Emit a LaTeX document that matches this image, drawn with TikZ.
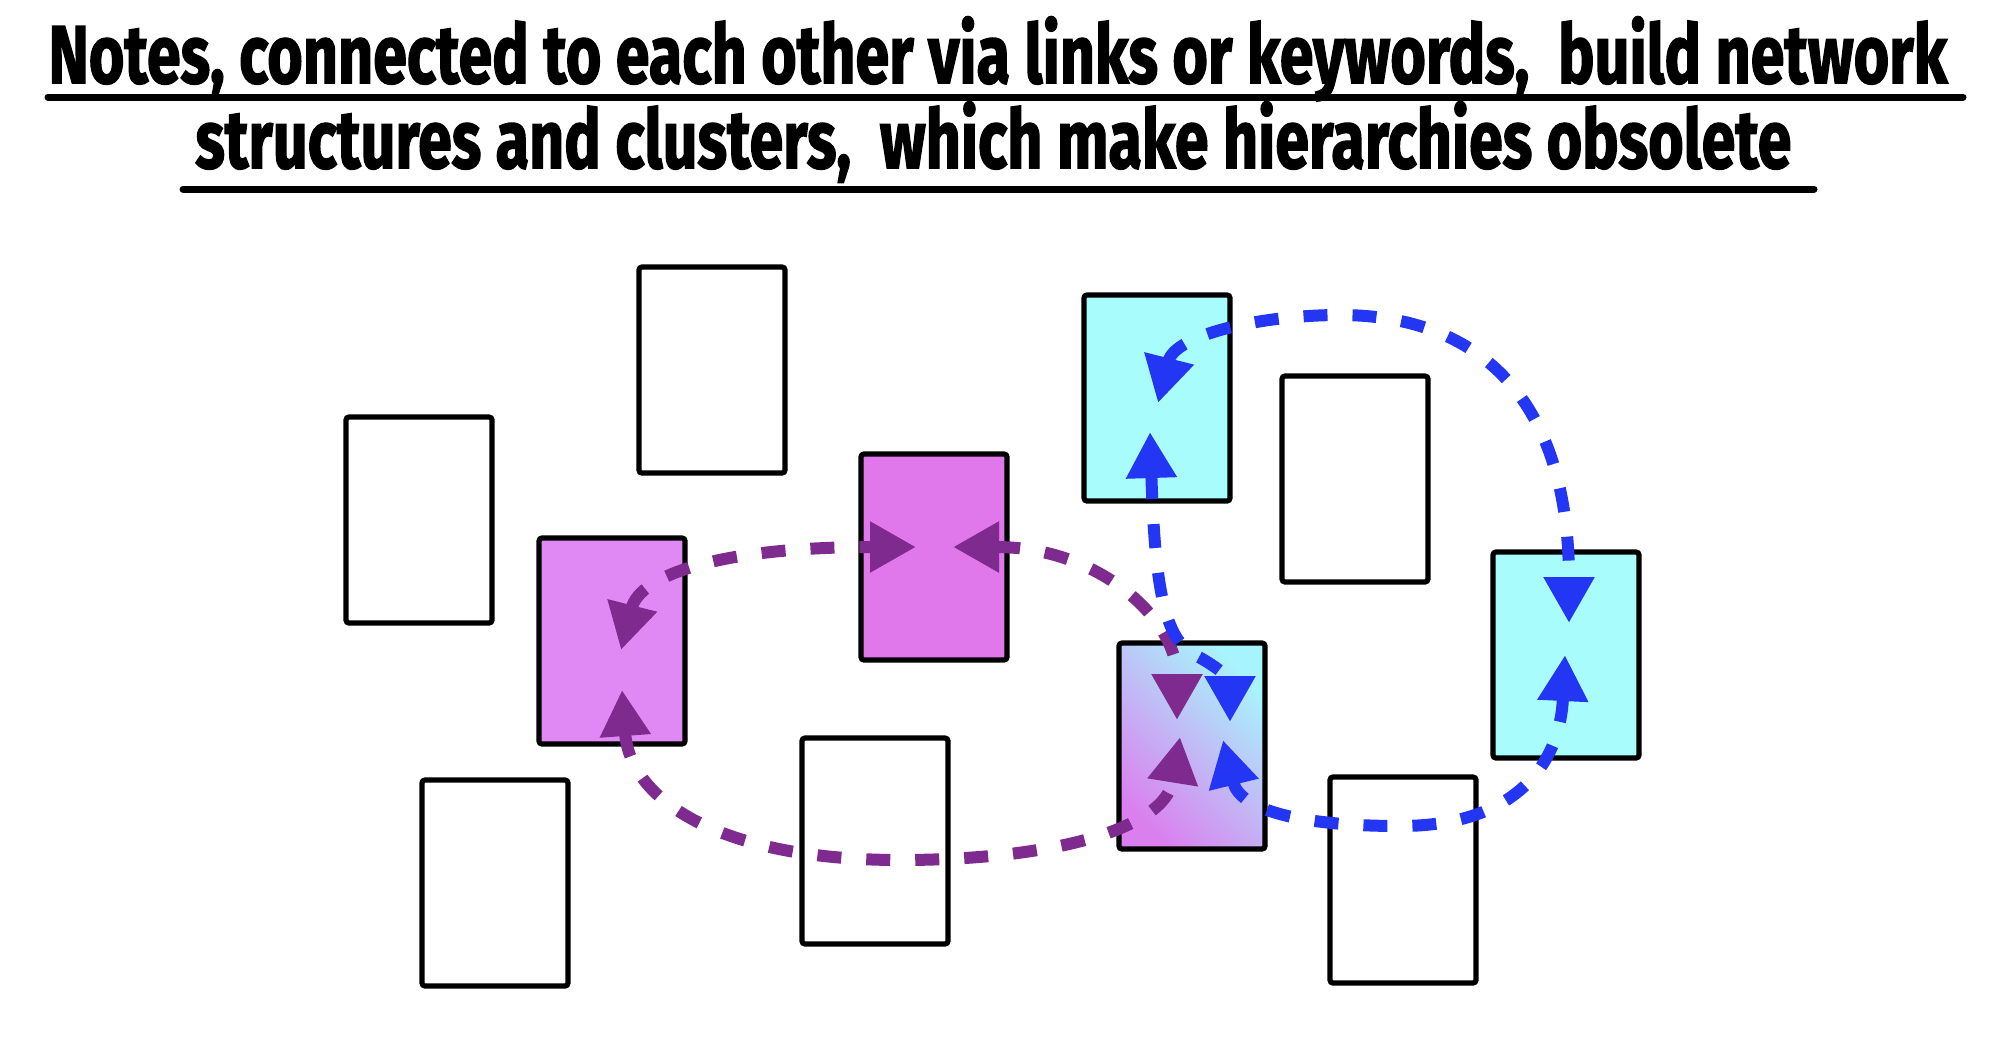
\documentclass[tikz,border=0pt]{standalone}
\usepackage{fontspec}
\setmainfont{Fira Sans}[BoldFeatures={FakeBold=2}]
\usetikzlibrary{arrows.meta}
\definecolor{magA}{HTML}{E088F4}
\definecolor{magB}{HTML}{E077EA}
\definecolor{cyanF}{HTML}{A8FCFC}
\definecolor{purp}{HTML}{7E2A8E}
\definecolor{blueL}{HTML}{2336F3}
\definecolor{gradM}{HTML}{DA80EE}
\definecolor{gradC}{HTML}{A8F4FC}
\begin{document}
\begin{tikzpicture}[x=0.5pt,y=-0.5pt,
  note/.style={draw=black, line width=2.6pt, rounded corners=1.5pt, minimum width=73pt, minimum height=103pt, inner sep=0pt},
  link/.style={line width=6pt, dash pattern=on 12pt off 12.5pt, {Triangle[length=23pt,width=24pt]}-{Triangle[length=23pt,width=24pt]}},
  ulin/.style={line width=3.5pt, line cap=round},
  title/.style={inner sep=0pt, anchor=base west, font=\bfseries\fontsize{41}{41}\selectfont}
]
\useasboundingbox (0,0) rectangle (1997,1041);

% title
\node[title] (t1) at (48,83) {\resizebox{949.5pt}{\height}{Notes, connected to each other via links or keywords,\ \ build network}};
\node[title] (t2) at (195,168) {\resizebox{798pt}{\height}{structures and clusters,\ \ which make hierarchies obsolete}};
\draw[ulin] (48,97) -- (1963,97);
\draw[ulin] (183,189) -- (1814,189);

% notes
\node[note, fill=white] (A) at (419,520) {};
\node[note, fill=white] (B) at (712,370) {};
\node[note, fill=magA]  (C) at (612,641) {};
\node[note, fill=magB]  (D) at (934,557) {};
\node[note, fill=cyanF] (E) at (1157,398) {};
\node[note, fill=white] (F) at (1355,479) {};
\node[note, fill=cyanF] (G) at (1566,655) {};
\node[note, bottom color=gradM, top color=gradC, shading angle=-45] (H) at (1192,746) {};
\node[note, fill=white] (I) at (495,883) {};
\node[note, fill=white] (J) at (875,841) {};
\node[note, fill=white] (K) at (1403,880) {};

% purple links
\draw[link, purp] ([shift={(9,9)}]C.center) .. controls (640,575) and (720,547) .. ([shift={(-18,-10)}]D.center);
\draw[link, purp] ([shift={(19,-10)}]D.center) .. controls (1100,547) and (1177,620) .. ([shift={(-15,-26)}]H.center);
\draw[link, purp] ([shift={(10,49)}]C.center) .. controls (630,800) and (720,860) .. (900,860) .. controls (1050,860) and (1165,830) .. ([shift={(-12,-9)}]H.center);

% blue links
\draw[link, blueL] ([shift={(1,5)}]E.center) .. controls (1175,335) and (1260,315) .. (1340,315) .. controls (1480,315) and (1569,400) .. ([shift={(3,-32)}]G.center);
\draw[link, blueL] ([shift={(-7,34)}]E.center) .. controls (1155,590) and (1165,640) .. (1195,655) .. controls (1220,668) and (1230,680) .. ([shift={(38,-24)}]H.center);
\draw[link, blueL] ([shift={(-1,0)}]G.center) .. controls (1560,760) and (1520,826) .. (1400,826) .. controls (1300,826) and (1240,810) .. ([shift={(31,-6)}]H.center);
\end{tikzpicture}
\end{document}
